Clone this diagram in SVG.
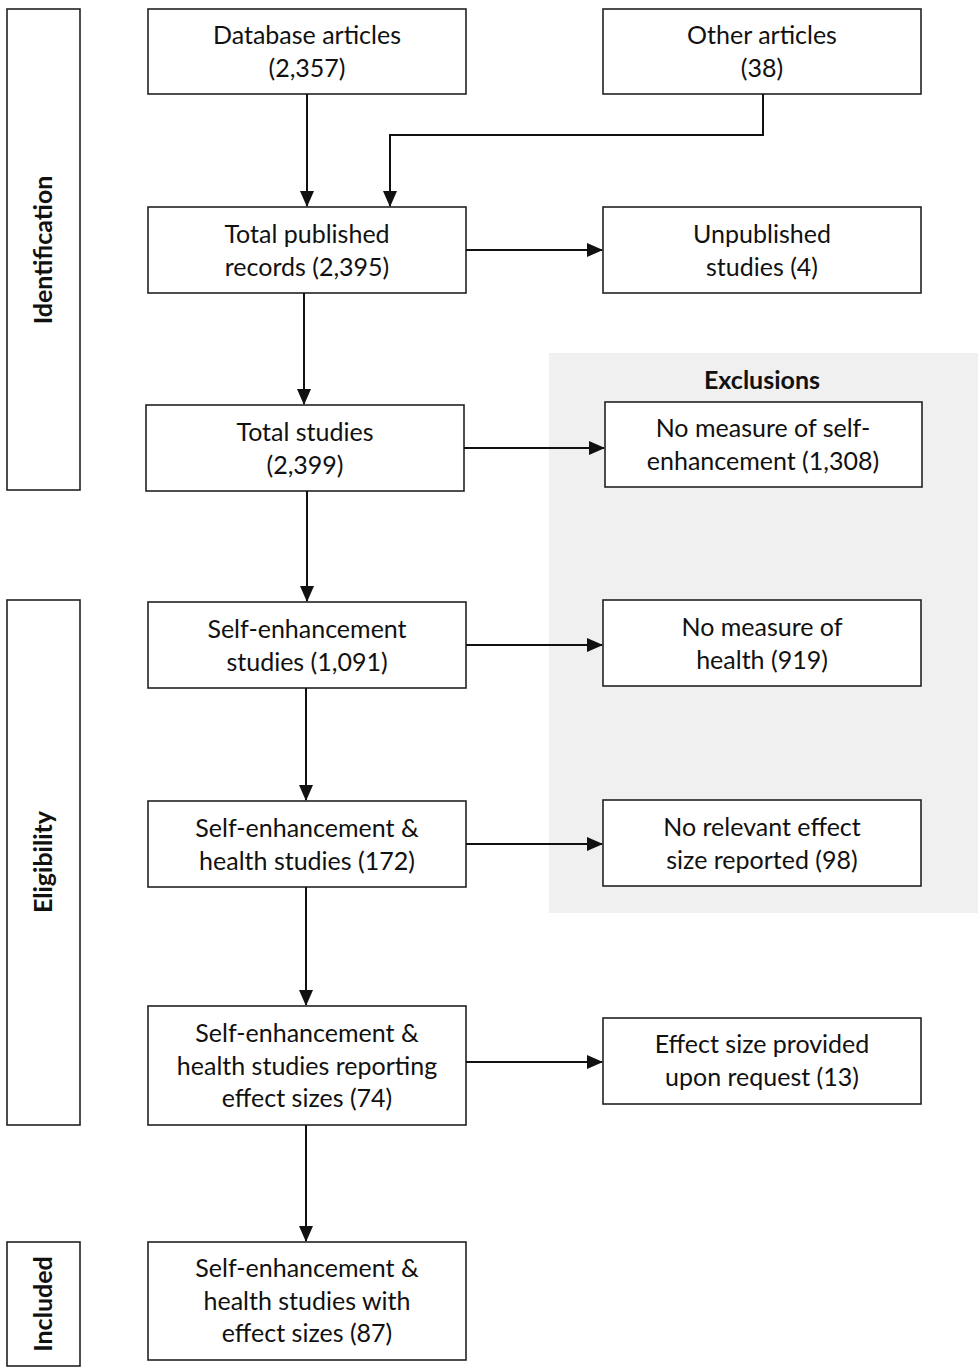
<svg xmlns="http://www.w3.org/2000/svg" width="978" height="1368" viewBox="0 0 978 1368">
<style>
.box{fill:#fff;stroke:#222;stroke-width:1.6}
.t{font-family:Lato,"Open Sans",sans-serif;font-size:25px;fill:#111;text-anchor:middle}
.b{font-family:Lato,"Open Sans",sans-serif;font-size:25px;font-weight:bold;fill:#111;text-anchor:middle}
.c{fill:none;stroke:#111;stroke-width:2}
</style>
<defs>
<marker id="ah" markerWidth="16" markerHeight="16" refX="15" refY="8" orient="auto" markerUnits="userSpaceOnUse" viewBox="0 0 16 16">
<path d="M0,1 L16,8 L0,15 z" fill="#111"/>
</marker>
</defs>
<rect x="549" y="353" width="429" height="560" fill="#f0f0f0"/>
<text class="b" x="762" y="389">Exclusions</text>
<g id="stage-identification"><rect class="box" x="7" y="9" width="73" height="481"/><text class="b" transform="translate(52,250) rotate(-90)">Identification</text></g>
<g id="stage-eligibility"><rect class="box" x="7" y="600" width="73" height="525"/><text class="b" transform="translate(52,862) rotate(-90)">Eligibility</text></g>
<g id="stage-included"><rect class="box" x="7" y="1242" width="73" height="124"/><text class="b" transform="translate(52,1304) rotate(-90)">Included</text></g>
<g id="database"><rect class="box" x="148" y="9" width="318" height="85"/><text class="t" x="307" y="44">Database articles</text><text class="t" x="307" y="77">(2,357)</text></g>
<g id="other"><rect class="box" x="603" y="9" width="318" height="85"/><text class="t" x="762" y="44">Other articles</text><text class="t" x="762" y="77">(38)</text></g>
<g id="published"><rect class="box" x="148" y="207" width="318" height="86"/><text class="t" x="307" y="243">Total published</text><text class="t" x="307" y="276">records (2,395)</text></g>
<g id="unpublished"><rect class="box" x="603" y="207" width="318" height="86"/><text class="t" x="762" y="243">Unpublished</text><text class="t" x="762" y="276">studies (4)</text></g>
<g id="total"><rect class="box" x="146" y="405" width="318" height="86"/><text class="t" x="305" y="441">Total studies</text><text class="t" x="305" y="474">(2,399)</text></g>
<g id="ex1"><rect class="box" x="605" y="402" width="317" height="85"/><text class="t" x="763" y="437">No measure of self-</text><text class="t" x="763" y="470">enhancement (1,308)</text></g>
<g id="se"><rect class="box" x="148" y="602" width="318" height="86"/><text class="t" x="307" y="638">Self-enhancement</text><text class="t" x="307" y="671">studies (1,091)</text></g>
<g id="ex2"><rect class="box" x="603" y="600" width="318" height="86"/><text class="t" x="762" y="636">No measure of</text><text class="t" x="762" y="669">health (919)</text></g>
<g id="seh"><rect class="box" x="148" y="801" width="318" height="86"/><text class="t" x="307" y="837">Self-enhancement &amp;</text><text class="t" x="307" y="870">health studies (172)</text></g>
<g id="ex3"><rect class="box" x="603" y="800" width="318" height="86"/><text class="t" x="762" y="836">No relevant effect</text><text class="t" x="762" y="869">size reported (98)</text></g>
<g id="rep"><rect class="box" x="148" y="1006" width="318" height="119"/><text class="t" x="307" y="1042">Self-enhancement &amp;</text><text class="t" x="307" y="1075">health studies reporting</text><text class="t" x="307" y="1107">effect sizes (74)</text></g>
<g id="req"><rect class="box" x="603" y="1018" width="318" height="86"/><text class="t" x="762" y="1053">Effect size provided</text><text class="t" x="762" y="1086">upon request (13)</text></g>
<g id="final"><rect class="box" x="148" y="1242" width="318" height="118"/><text class="t" x="307" y="1277">Self-enhancement &amp;</text><text class="t" x="307" y="1310">health studies with</text><text class="t" x="307" y="1342">effect sizes (87)</text></g>
<g id="connectors">
<path class="c" d="M307,94 V206" marker-end="url(#ah)"/>
<path class="c" d="M763,94 V135 H390 V206" marker-end="url(#ah)"/>
<path class="c" d="M304,293 V404" marker-end="url(#ah)"/>
<path class="c" d="M466,250 H602" marker-end="url(#ah)"/>
<path class="c" d="M307,491 V601" marker-end="url(#ah)"/>
<path class="c" d="M464,448 H604" marker-end="url(#ah)"/>
<path class="c" d="M306,688 V800" marker-end="url(#ah)"/>
<path class="c" d="M466,645 H602" marker-end="url(#ah)"/>
<path class="c" d="M306,887 V1005" marker-end="url(#ah)"/>
<path class="c" d="M466,844 H602" marker-end="url(#ah)"/>
<path class="c" d="M306,1125 V1241" marker-end="url(#ah)"/>
<path class="c" d="M466,1062 H602" marker-end="url(#ah)"/>
</g>
</svg>
